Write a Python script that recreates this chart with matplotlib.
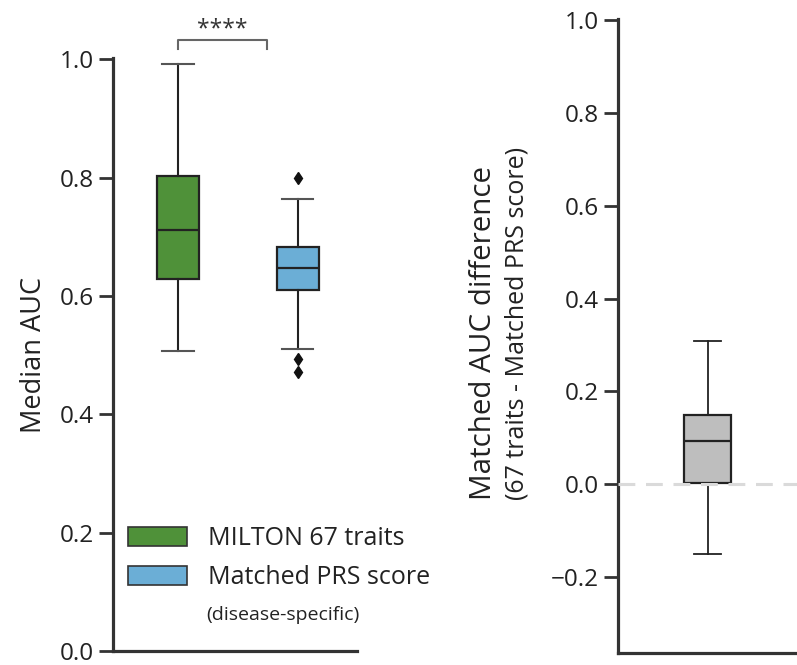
import matplotlib
matplotlib.use("Agg")
import matplotlib.pyplot as plt
from matplotlib.patches import Patch

plt.rcParams['font.family'] = ['Open Sans', 'DejaVu Sans']

# ---- data ----
groups = ["MILTON 67 traits", "Matched PRS score"]
group_colors = ["#4f9139", "#6baed6"]
whislo = [0.507, 0.510]
q1 = [0.628, 0.610]
med = [0.712, 0.648]
q3 = [0.802, 0.683]
whishi = [0.992, 0.763]
fliers = [[], [0.800, 0.494, 0.472]]

diff_whislo = -0.150
diff_q1 = 0.003
diff_med = 0.094
diff_q3 = 0.149
diff_whishi = 0.309
diff_color = "#bebebe"

left_yticks = [0.0, 0.2, 0.4, 0.6, 0.8, 1.0]
right_yticks = [-0.2, 0.0, 0.2, 0.4, 0.6, 0.8, 1.0]
signif = "****"

W, H = 797, 665
fig = plt.figure(figsize=(W / 100, H / 100), dpi=100)

def fx(px):
    return px / W

def fy(py):
    return 1 - py / H

spine_col = "#333333"

def style_axis(ax):
    for s in ["top", "right"]:
        ax.spines[s].set_visible(False)
    for s in ["left", "bottom"]:
        ax.spines[s].set_linewidth(2.3)
        ax.spines[s].set_color(spine_col)
    ax.tick_params(axis="y", length=10, width=2.0, color=spine_col,
                   labelsize=17.5, labelcolor="#222222", pad=4)
    ax.set_xticks([])

# ---- left panel ----
axL = fig.add_axes([fx(113), fy(651), fx(357 - 113), (651 - 58) / H])
stats = []
for i in range(len(groups)):
    stats.append(dict(whislo=whislo[i], q1=q1[i], med=med[i], q3=q3[i],
                      whishi=whishi[i], fliers=fliers[i], label=groups[i]))
bp = axL.bxp(stats, positions=[0, 1], widths=0.35, capwidths=0.265,
             patch_artist=True, showfliers=True,
             boxprops=dict(linewidth=1.6, edgecolor="#222222"),
             medianprops=dict(color="#222222", linewidth=1.6),
             whiskerprops=dict(color="#222222", linewidth=1.5),
             capprops=dict(color="#555555", linewidth=1.5),
             flierprops=dict(marker="d", markerfacecolor="#111111",
                             markeredgecolor="#111111", markersize=6.5))
for patch, c in zip(bp["boxes"], group_colors):
    patch.set_facecolor(c)
axL.set_xlim(-0.547, 1.497)
axL.set_ylim(0.0, 1.002)
axL.set_yticks(left_yticks)
axL.set_yticklabels([f"{v:.1f}" for v in left_yticks])
style_axis(axL)

# significance bracket
bx0, bx1 = 0.0, 0.743
by_top, by_bot = 1.032, 1.017
axL.plot([bx0, bx0, bx1, bx1], [by_bot, by_top, by_top, by_bot],
         color="#666666", linewidth=1.5, clip_on=False)
axL.text((bx0 + bx1) / 2, by_top - 0.002, signif, ha="center", va="bottom",
         fontsize=16.5, color="#333333", clip_on=False)

# legend
handles = [Patch(facecolor=group_colors[0], edgecolor="#333333", linewidth=1.2,
                 label=groups[0]),
           Patch(facecolor=group_colors[1], edgecolor="#333333", linewidth=1.2,
                 label=groups[1])]
leg = axL.legend(handles=handles, loc="upper left",
                 bbox_to_anchor=(fx(128), fy(526)), bbox_transform=fig.transFigure,
                 frameon=False, fontsize=18, handlelength=2.35, handleheight=0.8,
                 handletextpad=0.85, labelspacing=0.55, borderpad=0, borderaxespad=0)
for t in leg.get_texts():
    t.set_color("#222222")
fig.text(fx(206), fy(615), "(disease-specific)", fontsize=14,
         ha="left", va="center", color="#222222")

fig.text(fx(34), fy(355), "Median AUC", rotation=90, ha="center", va="center",
         fontsize=19.5, color="#222222")

# ---- right panel ----
axR = fig.add_axes([fx(618.3), fy(652.7), fx(W - 618.3) + 0.01, (652.7 - 19.3) / H])
dstats = [dict(whislo=diff_whislo, q1=diff_q1, med=diff_med, q3=diff_q3,
               whishi=diff_whishi, fliers=[])]
bp2 = axR.bxp(dstats, positions=[0], widths=0.263, capwidths=0.151,
              patch_artist=True, showfliers=False,
              boxprops=dict(linewidth=1.6, edgecolor="#222222", facecolor=diff_color),
              medianprops=dict(color="#222222", linewidth=1.6),
              whiskerprops=dict(color="#222222", linewidth=1.3),
              capprops=dict(color="#222222", linewidth=1.3))
axR.axhline(0.0, color="#dadada", linewidth=2.2, dashes=(5.5, 3.5), zorder=5)
axR.set_xlim(-0.5, 0.5 + 0.01 * W / (W - 618.3))
axR.set_ylim(-0.3627, 1.0015)
axR.set_yticks(right_yticks)
axR.set_yticklabels([f"{v:.1f}".replace("-", "\u2212") for v in right_yticks])
style_axis(axR)

fig.text(fx(483), fy(500), "Matched AUC difference", rotation=90,
         ha="center", va="bottom", fontsize=21.3, color="#222222")
fig.text(fx(517), fy(500), "(67 traits - Matched PRS score)", rotation=90,
         ha="center", va="bottom", fontsize=18, color="#222222")

fig.savefig("out.png", dpi=100)
